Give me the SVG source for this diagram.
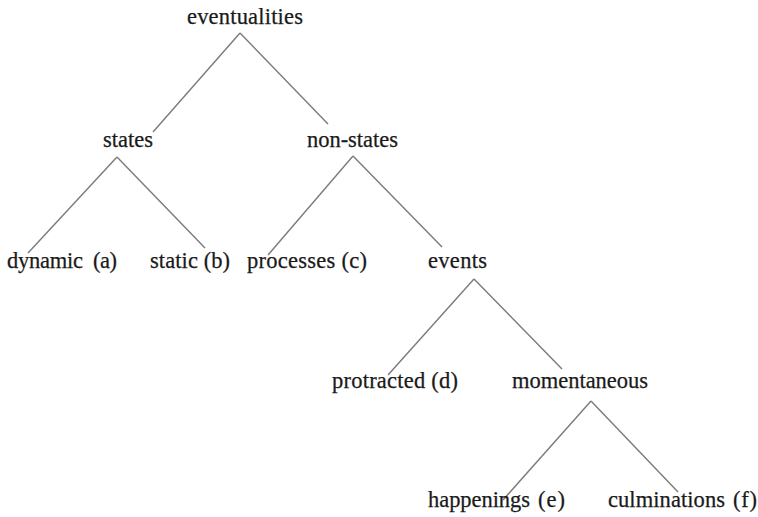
<svg xmlns="http://www.w3.org/2000/svg" width="758" height="517" viewBox="0 0 758 517">
  <style>
    .lbl { font-family: "Liberation Serif", "Times New Roman", serif; font-size: 22.5px; fill: #1a1a1a; stroke: #1a1a1a; stroke-width: 0.25; }
    .edge { stroke: #7a7a7a; stroke-width: 1.4; fill: none; }
  </style>
  <rect width="758" height="517" fill="#ffffff"/>
  <g id="connectors">
    <line class="edge" x1="240" y1="33" x2="153" y2="132"/>
    <line class="edge" x1="240" y1="33" x2="328" y2="124"/>
    <line class="edge" x1="117" y1="157" x2="28" y2="253"/>
    <line class="edge" x1="117" y1="157" x2="205" y2="248"/>
    <line class="edge" x1="353" y1="156" x2="268" y2="255"/>
    <line class="edge" x1="353" y1="156" x2="442" y2="247"/>
    <line class="edge" x1="474" y1="279" x2="388" y2="375"/>
    <line class="edge" x1="474" y1="279" x2="562" y2="369"/>
    <line class="edge" x1="591" y1="401" x2="503" y2="500"/>
    <line class="edge" x1="591" y1="401" x2="678" y2="492"/>
  </g>
  <g id="eventualities"><text class="lbl" x="187" y="24" textLength="116">eventualities</text></g>
  <g id="states"><text class="lbl" x="103" y="147" textLength="50">states</text></g>
  <g id="non-states"><text class="lbl" x="307" y="147" textLength="91">non-states</text></g>
  <g id="dynamic"><text class="lbl" y="268"><tspan x="7" textLength="76">dynamic</tspan><tspan x="93" textLength="24">(a)</tspan></text></g>
  <g id="static"><text class="lbl" x="150" y="268" textLength="80">static (b)</text></g>
  <g id="processes"><text class="lbl" x="247" y="268" textLength="120">processes (c)</text></g>
  <g id="events"><text class="lbl" x="428" y="268" textLength="59">events</text></g>
  <g id="protracted"><text class="lbl" x="332" y="388" textLength="126">protracted (d)</text></g>
  <g id="momentaneous"><text class="lbl" x="512" y="388" textLength="136">momentaneous</text></g>
  <g id="happenings"><text class="lbl" y="507"><tspan x="428" textLength="102">happenings</tspan><tspan x="538" textLength="27">(e)</tspan></text></g>
  <g id="culminations"><text class="lbl" y="507"><tspan x="608" textLength="117">culminations</tspan><tspan x="733" textLength="24">(f)</tspan></text></g>
</svg>
